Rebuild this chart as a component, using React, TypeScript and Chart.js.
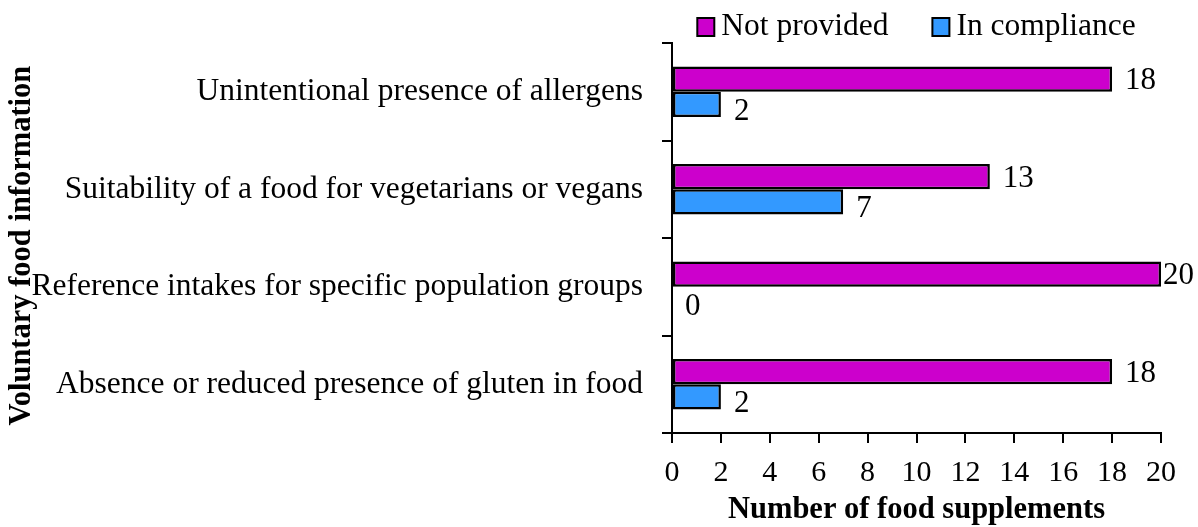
import React, { useEffect, useRef } from "react";
import { Chart, registerables } from "chart.js";

Chart.register(...registerables);

const categories = [
  "Unintentional presence of allergens",
  "Suitability of a food for vegetarians or vegans",
  "Reference intakes for specific population groups",
  "Absence or reduced presence of gluten in food",
];
const seriesNames = ["Not provided", "In compliance"];
const notProvided = [18, 13, 20, 18];
const inCompliance = [2, 7, 0, 2];
const seriesColors = ["#CC00CC", "#3399FF"];
const xAxisMin = 0;
const xAxisMax = 20;
const xAxisStep = 2;
const xTitle = "Number of food supplements";
const yTitle = "Voluntary food information";

const FONT = "'Liberation Serif', 'Times New Roman', serif";

const valueLabels = {
  id: "valueLabels",
  afterDatasetsDraw(chart: any) {
    const ctx = chart.ctx;
    ctx.save();
    ctx.font = `31px ${FONT}`;
    ctx.fillStyle = "#000";
    ctx.textAlign = "left";
    ctx.textBaseline = "alphabetic";
    chart.data.datasets.forEach((ds: any, di: number) => {
      const meta = chart.getDatasetMeta(di);
      meta.data.forEach((bar: any, i: number) => {
        const text = String(ds.data[i]);
        const w = ctx.measureText(text).width;
        const x = Math.min(bar.x + 13, chart.width - w - 4);
        const y = bar.y + (di === 0 ? 10 : 15.5);
        ctx.fillText(text, x, y);
      });
    });
    ctx.restore();
  },
};

const topLegend = {
  id: "topLegend",
  afterDraw(chart: any) {
    const ctx = chart.ctx;
    const area = chart.chartArea;
    ctx.save();
    ctx.font = `31.5px ${FONT}`;
    const boxW = 17;
    const boxH = 18;
    const gapText = 7;
    const gapItem = 44;
    const items = chart.data.datasets.map((ds: any) => ({
      label: ds.label,
      color: ds.backgroundColor,
      w: ctx.measureText(ds.label).width,
    }));
    const total =
      items.reduce((s: number, it: any) => s + boxW + gapText + it.w, 0) +
      gapItem * (items.length - 1);
    let x = (area.left + area.right) / 2 - total / 2;
    items.forEach((it: any) => {
      ctx.fillStyle = it.color;
      ctx.fillRect(x, 18, boxW, boxH);
      ctx.lineWidth = 2;
      ctx.strokeStyle = "#000";
      ctx.strokeRect(x, 18, boxW, boxH);
      ctx.fillStyle = "#000";
      ctx.textAlign = "left";
      ctx.textBaseline = "alphabetic";
      ctx.fillText(it.label, x + boxW + gapText, 34.5);
      x += boxW + gapText + it.w + gapItem;
    });
    ctx.restore();
  },
};

export default function App() {
  const canvasRef = useRef<HTMLCanvasElement | null>(null);

  useEffect(() => {
    if (!canvasRef.current) return;
    const chart = new Chart(canvasRef.current, {
      type: "bar",
      data: {
        labels: categories,
        datasets: [
          {
            label: seriesNames[0],
            data: notProvided,
            backgroundColor: seriesColors[0],
            borderColor: "#000",
            borderWidth: 2.5,
            borderSkipped: false,
            categoryPercentage: 0.52,
            barPercentage: 1.0,
          },
          {
            label: seriesNames[1],
            data: inCompliance,
            backgroundColor: seriesColors[1],
            borderColor: "#000",
            borderWidth: 2.5,
            borderSkipped: false,
            categoryPercentage: 0.52,
            barPercentage: 1.0,
          },
        ],
      },
      options: {
        indexAxis: "y",
        responsive: false,
        animation: false,
        layout: { padding: { top: 43, right: 37, bottom: 0, left: 0 } },
        plugins: {
          legend: { display: false },
          tooltip: { enabled: false },
        },
        scales: {
          x: {
            type: "linear",
            position: "bottom",
            min: xAxisMin,
            max: xAxisMax,
            ticks: {
              stepSize: xAxisStep,
              color: "#000",
              font: { family: FONT, size: 30 },
              padding: 12,
            },
            grid: {
              drawOnChartArea: false,
              drawTicks: true,
              tickLength: 10,
              color: "#000",
              lineWidth: 2,
            },
            border: { display: true, color: "#000", width: 2 },
            title: {
              display: true,
              text: xTitle,
              color: "#000",
              font: { family: FONT, size: 30.5, weight: "bold" },
              padding: { top: 0, bottom: -1 },
            },
            afterFit: (s: any) => {
              s.height = 94;
            },
          },
          y: {
            type: "category",
            ticks: {
              color: "#000",
              font: { family: FONT, size: 31.5 },
              padding: 19,
            },
            grid: {
              drawOnChartArea: false,
              drawTicks: true,
              tickLength: 10,
              color: "#000",
              lineWidth: 2,
              offset: true,
            },
            border: { display: true, color: "#000", width: 2 },
            title: {
              display: true,
              text: yTitle + "  ",
              color: "#000",
              font: { family: FONT, size: 30.5, weight: "bold" },
              padding: { top: 4, bottom: 0 },
            },
            afterFit: (s: any) => {
              s.width = 672;
            },
          },
        },
      } as any,
      plugins: [valueLabels, topLegend],
    });
    return () => chart.destroy();
  }, []);

  return (
    <div style={{ position: "fixed", left: 0, top: 0, width: 1198, height: 527, background: "#fff" }}>
      <canvas ref={canvasRef} width={1198} height={527} style={{ display: "block" }} />
    </div>
  );
}
